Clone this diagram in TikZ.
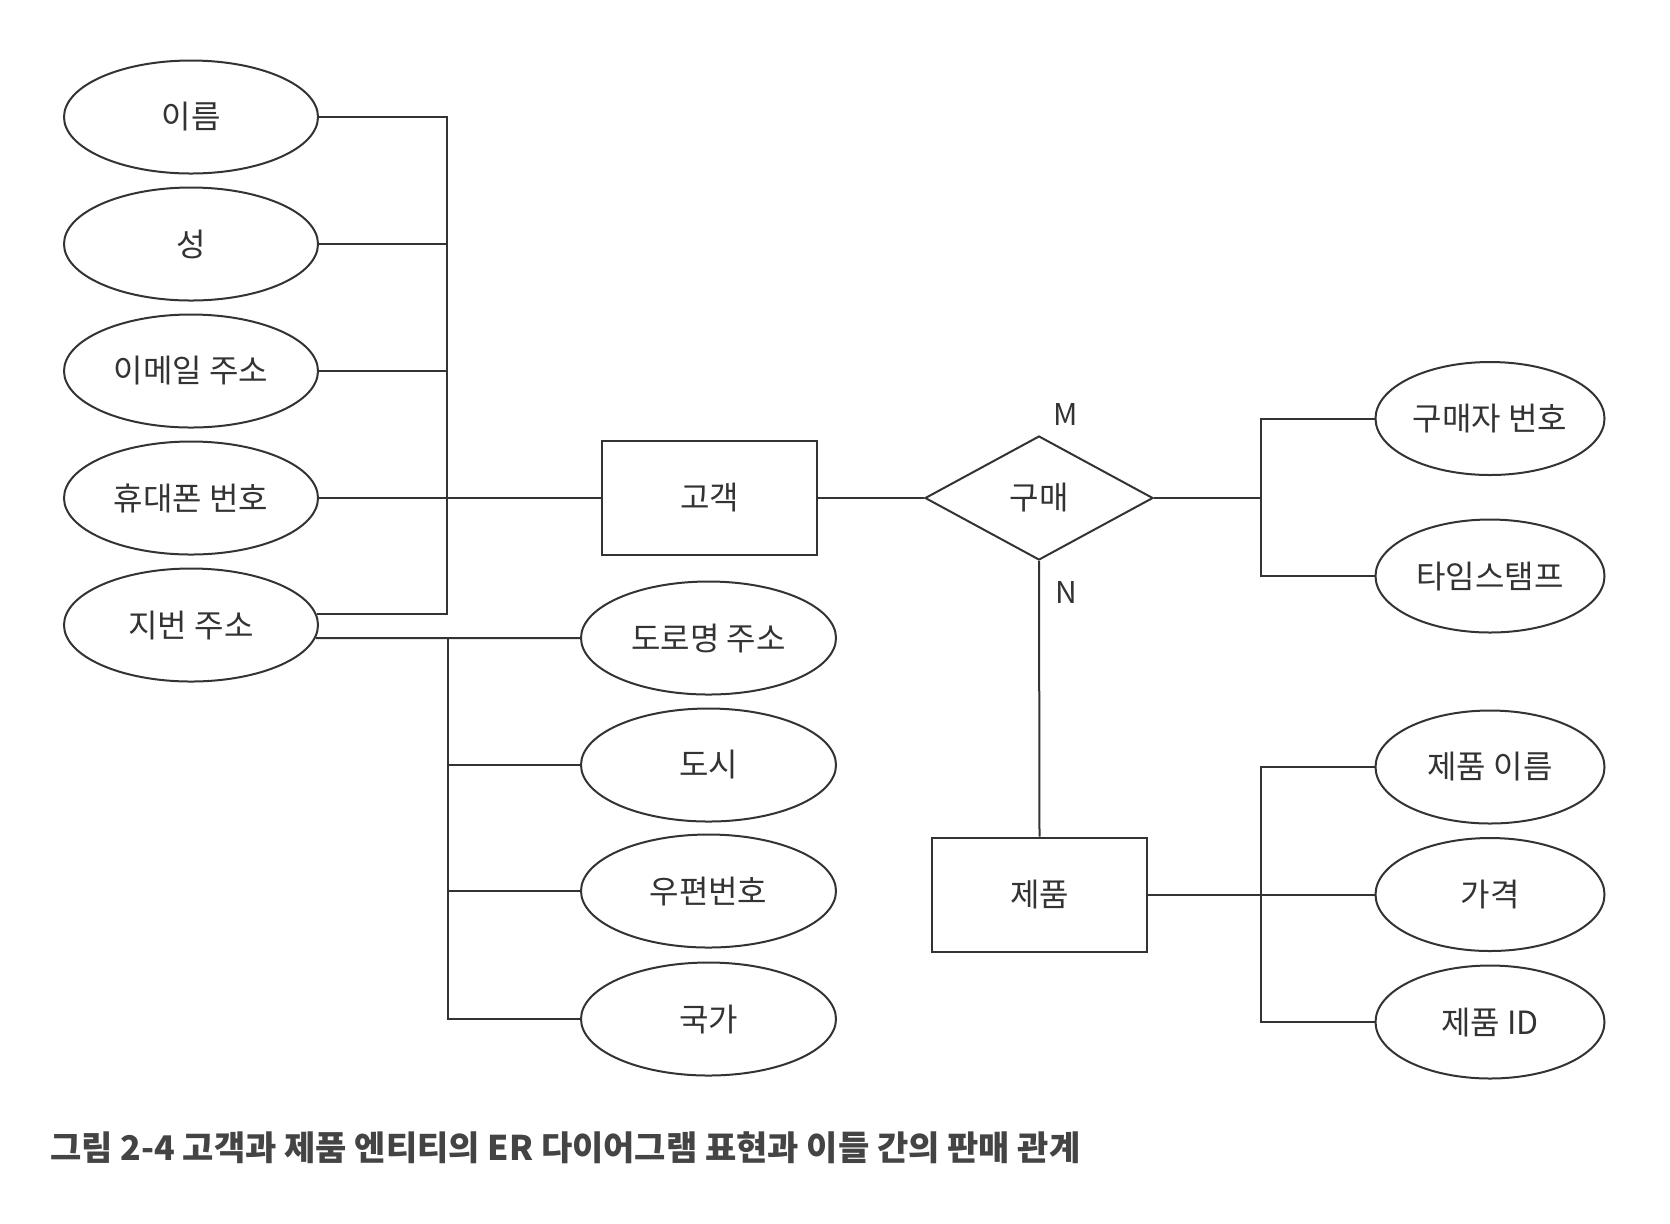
\documentclass[tikz,border=0pt]{standalone}
\usepackage{fontspec}
\setmainfont{Noto Sans CJK KR}
\usetikzlibrary{shapes.geometric}
\definecolor{ink}{HTML}{333333}
\definecolor{capink}{HTML}{444444}
\begin{document}
\begin{tikzpicture}[x=0.5pt,y=-0.5pt,
  every node/.style={font=\fontsize{16}{19}\selectfont, text=ink},
  line/.style={draw=ink, line width=1pt},
  attr/.style={line, ellipse, inner sep=0pt, minimum height=56.5pt},
  attrL/.style={attr, minimum width=127pt},
  attrM/.style={attr, minimum width=127.5pt},
  attrR/.style={attr, minimum width=114.5pt},
  entity/.style={line, rectangle, inner sep=0pt, minimum width=107.5pt, minimum height=57pt},
  relation/.style={line, diamond, inner sep=0pt, minimum width=114pt, minimum height=62pt},
  card/.style={font=\fontsize{15}{18}\selectfont}
]
\useasboundingbox (0,0) rectangle (1670,1223);
\fill[white] (0,0) rectangle (1670,1223);

% left attributes of customer
\node[attrL] (e1) at (191,117) {이름};
\node[attrL] (e2) at (191,244) {성};
\node[attrL] (e3) at (191,371) {이메일 주소};
\node[attrL] (e4) at (191,498) {휴대폰 번호};
\node[attrL] (e5) at (191,625) {지번 주소};

% address sub-attributes
\node[attrM] (m1) at (708.5,638) {도로명 주소};
\node[attrM] (m2) at (708.5,765) {도시};
\node[attrM] (m3) at (708.5,891) {우편번호};
\node[attrM] (m4) at (708.5,1019) {국가};

% entities and relation
\node[entity] (cust) at (709.5,498) {고객};
\node[relation] (rel) at (1039,498) {구매};
\node[entity] (prod) at (1039.5,894.5) {제품};

\node[card] (lm) at (1066,414) {M};
\node[card] (ln) at (1066,592) {N};

% right attributes
\node[attrR] (r1) at (1490,418.5) {구매자 번호};
\node[attrR] (r2) at (1490,576) {타임스탬프};
\node[attrR] (r3) at (1490,767) {제품 이름};
\node[attrR] (r4) at (1490,894.5) {가격};
\node[attrR] (r5) at (1490,1022) {제품 ID};

% bus coordinates
\coordinate (bx) at (447,0);
\coordinate (bx2) at (448,0);
\coordinate (bx3) at (1261,0);

% customer attribute connectors
\draw[line] (e1.east) -- (e1.east -| bx) -- (e5.5 -| bx) -- (e5.5);
\draw[line] (e2.east) -- (e2.east -| bx);
\draw[line] (e3.east) -- (e3.east -| bx);
\draw[line] (e4.east) -- (cust.west);

% address connectors
\draw[line] (e5.-6) -- (m1.west);
\draw[line] (m1.west -| bx2) -- (m4.west -| bx2) -- (m4.west);
\draw[line] (m2.west -| bx2) -- (m2.west);
\draw[line] (m3.west -| bx2) -- (m3.west);

% relation connectors
\draw[line] (cust.east) -- (rel.west);
\draw[line] (rel.south) -- (prod.north);
\draw[line] (rel.east) -- (rel.east -| bx3);
\draw[line] (r1.west) -- (r1.west -| bx3) -- (r2.west -| bx3) -- (r2.west);

% product connectors
\draw[line] (prod.east) -- (r4.west);
\draw[line] (r3.west) -- (r3.west -| bx3) -- (r5.west -| bx3) -- (r5.west);

% caption
\node[anchor=west, text=capink, font=\fontsize{17}{20}\selectfont\bfseries, inner sep=0pt] (cap) at (50,1148)
  {그림 2-4 고객과 제품 엔티티의 ER 다이어그램 표현과 이들 간의 판매 관계};
\end{tikzpicture}
\end{document}
